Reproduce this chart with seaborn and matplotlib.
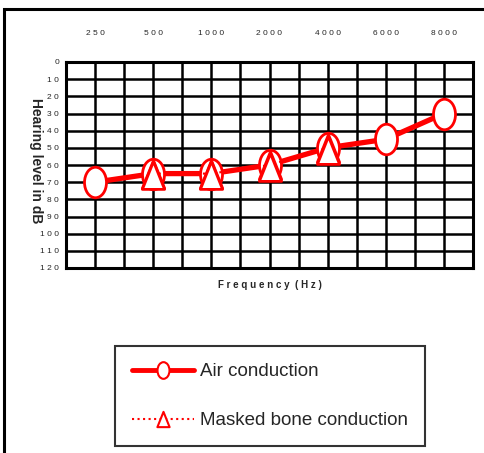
import pandas as pd
import matplotlib.pyplot as plt
import matplotlib.patches as mpatches
from matplotlib.lines import Line2D
from matplotlib.path import Path
from matplotlib.transforms import Affine2D
import seaborn as sns

freqs = ["250", "500", "1000", "2000", "4000", "6000", "8000"]
air_db = [70, 65, 65, 60, 50, 45, 30]
bone_freqs = ["500", "1000", "2000", "4000"]
bone_db = [65, 65, 60, 50]
y_ticks = list(range(0, 130, 10))

sns.set_style("white")
plt.rcParams["font.family"] = ["Liberation Sans", "DejaVu Sans"]

air = pd.DataFrame({"pos": [freqs.index(f) for f in freqs], "db": air_db})
bone = pd.DataFrame({"pos": [freqs.index(f) for f in bone_freqs], "db": bone_db})

# tall oval / tall triangle markers like the audiogram symbols
oval = Path.unit_circle().transformed(Affine2D().scale(0.72, 1.0))
tri = Path([(-0.8, -1.0), (0.8, -1.0), (0.0, 1.0), (-0.8, -1.0)], closed=True)

fig = plt.figure(figsize=(4.84, 4.53), dpi=100)
ax = fig.add_axes([66 / 484, 1 - 268 / 453, 407 / 484, 206 / 453])

# grid
for x in [i / 2 - 0.5 for i in range(15)]:
    ax.axvline(x, color="black", lw=1.8, zorder=1)
for y in y_ticks:
    ax.axhline(y, color="black", lw=1.8, zorder=1)

sns.lineplot(data=bone, x="pos", y="db", ax=ax, color="red", lw=1.5, ls=":",
             marker=tri, markersize=20, markerfacecolor="white",
             markeredgecolor="red", markeredgewidth=2, zorder=4)
sns.lineplot(data=air, x="pos", y="db", ax=ax, color="red", lw=3.8,
             marker=oval, markersize=22, markerfacecolor="white",
             markeredgecolor="red", markeredgewidth=2, zorder=3)
# triangles on top of the air line
ax.plot(bone["pos"], bone["db"] + 1, ls="none", marker=tri, markersize=20,
        markerfacecolor="white", markeredgecolor="red", markeredgewidth=2, zorder=5)

ax.set_xlim(-0.5, 6.5)
ax.set_ylim(120, 0)
ax.set_xticks(range(len(freqs)))
ax.set_xticklabels([" ".join(f) for f in freqs], fontsize=6)
ax.xaxis.tick_top()
ax.tick_params(axis="x", length=0, pad=18)
ax.set_yticks(y_ticks)
ax.set_yticklabels([" ".join(str(v)) if v >= 10 else str(v) for v in y_ticks], fontsize=6)
ax.tick_params(axis="y", length=0, pad=5)
for s in ax.spines.values():
    s.set_linewidth(2.2)
    s.set_color("black")

ax.set_xlabel("F r e q u e n c y  ( H z )", fontsize=7, fontweight="bold", labelpad=9)
ax.xaxis.set_label_position("bottom")
ax.set_ylabel("Hearing level in dB", fontsize=10, fontweight="bold", rotation=270, labelpad=14)
ax.yaxis.set_label_coords(-0.09, 0.52)

# outer frame
fig.patches.append(mpatches.Rectangle((4 / 484, -0.05), 1.1, 1 - 9 / 453 + 0.05,
                                      transform=fig.transFigure, fill=False,
                                      edgecolor="black", lw=2.2))

handles = [
    Line2D([], [], color="red", lw=3.5, marker=oval, markersize=12,
           markerfacecolor="white", markeredgecolor="red", markeredgewidth=1.5),
    Line2D([], [], color="red", lw=1.5, ls=":", marker=tri, markersize=11,
           markerfacecolor="white", markeredgecolor="red", markeredgewidth=1.5),
]
leg = fig.legend(handles, ["Air conduction", "Masked bone conduction"],
                 loc="center", bbox_to_anchor=(270 / 484, 1 - 396 / 453),
                 fontsize=13.5, frameon=True, fancybox=False, handlelength=3.3,
                 labelspacing=1.7, borderpad=0.9, handletextpad=0.3,
                 borderaxespad=0)
leg.get_frame().set_edgecolor("black")
leg.get_frame().set_linewidth(1.5)

fig.savefig("out.png", dpi=100)
